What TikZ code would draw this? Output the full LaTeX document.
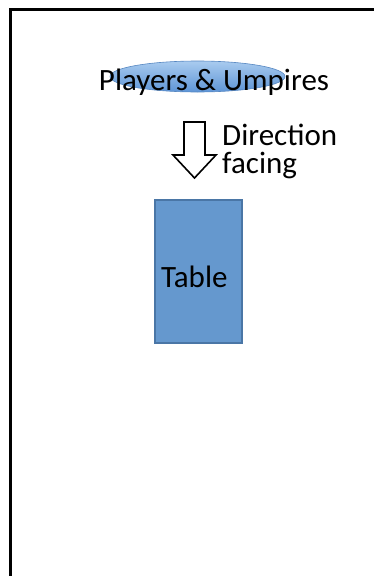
\documentclass[tikz,border=0pt]{standalone}
\usepackage{fontspec}
\setmainfont{Carlito}
\usetikzlibrary{shapes.geometric}
\definecolor{ellTop}{HTML}{A9CBEF}
\definecolor{ellBot}{HTML}{5E95D6}
\definecolor{tabFill}{HTML}{6598CE}
\definecolor{tabLine}{HTML}{4A76A6}
\tikzset{
  lbl/.style={font=\fontsize{31}{34}\selectfont, text=black, inner sep=0pt},
  ell/.style={ellipse, draw=ellBot!90!black, line width=0.6pt, top color=ellTop, bottom color=ellBot, minimum width=175pt, minimum height=31pt, inner sep=0pt},
  tablebox/.style={draw=tabLine, line width=2pt, fill=tabFill, minimum width=87pt, minimum height=143pt, inner sep=0pt},
  blockarrow/.style={draw=black, line width=1.6pt, fill=white, line join=miter}
}
\begin{document}
\begin{tikzpicture}[x=1pt,y=-1pt]
\useasboundingbox (0,0) rectangle (374,576);
\fill[white] (0,0) rectangle (374,576);
\draw[line width=3pt] (10.5,600) -- (10.5,9.5) -- (400,9.5);
\node[ell] (e) at (197.5,76.5) {};
\node[lbl, anchor=base] (pu) at (214,90) {Players \& Umpires};
\draw[blockarrow] (184,122) -- (205,122) -- (205,155) -- (216,155) -- (194.5,178) -- (173,155) -- (184,155) -- cycle;
\node[lbl, anchor=base west] (df) at (222,145) {Direction};
\node[lbl, anchor=base west] (fc) at (222,173) {facing};
\node[tablebox] (t) at (198,271) {};
\node[lbl, anchor=base west] (tl) at (161,287) {Table};
\end{tikzpicture}
\end{document}
